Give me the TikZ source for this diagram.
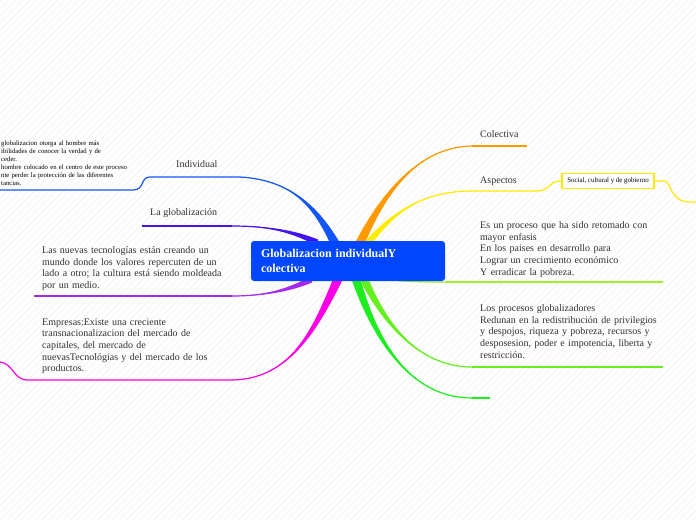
\documentclass[tikz,border=0pt]{standalone}
\usepackage{fontspec}
\setmainfont{Liberation Serif}
\usetikzlibrary{calc}
\pgfdeclarelayer{background}
\pgfdeclarelayer{stripes}
\pgfsetlayers{stripes,background,main}
\definecolor{blueB}{RGB}{20,85,245}
\definecolor{violetB}{RGB}{68,20,238}
\definecolor{purpleB}{RGB}{165,40,240}
\definecolor{magB}{RGB}{255,0,230}
\definecolor{orangeB}{RGB}{255,153,0}
\definecolor{yellowB}{RGB}{255,235,0}
\definecolor{ygreenB}{RGB}{160,238,40}
\definecolor{lgreenB}{RGB}{100,240,30}
\definecolor{greenB}{RGB}{30,238,30}
\definecolor{boxblue}{RGB}{0,70,255}
\definecolor{txt}{RGB}{50,50,50}
\newcommand{\taperbranch}[7]{%
  \fill[#1] ($(#2)+(#6,#7)$) .. controls ($(#3)+0.5*(#6,#7)$) and (#4) .. (#5)
     .. controls (#4) and ($(#3)-0.5*(#6,#7)$) .. ($(#2)-(#6,#7)$) -- cycle;
  \draw[#1, thinline] (#2) .. controls (#3) and (#4) .. (#5);
}
\tikzset{
  thinline/.style={line width=1.2pt},
  lbl/.style={inner sep=0, text=txt, font=\fontsize{10}{12}\selectfont, anchor=west},
  body/.style={inner sep=0, text=txt, anchor=north west, text width=250, align=left,
     font=\fontsize{10}{11.6}\selectfont},
  tiny/.style={inner sep=0, text=black, anchor=north west, text width=200, align=left,
     font=\fontsize{6.7}{8}\selectfont},
  stripe/.style={black!5, line width=0.5pt}
}
\begin{document}
\begin{tikzpicture}[x=1pt,y=-1pt]
\useasboundingbox (0,0) rectangle (696,520);
\begin{pgfonlayer}{stripes}
  \fill[white] (0,0) rectangle (696,520);
  \begin{scope}
    \clip (0,0) rectangle (696,520);
    \foreach \i in {-525,-518,...,700} \draw[stripe] (\i,520) -- (\i+520,0);
  \end{scope}
\end{pgfonlayer}

% central node
\node[fill=boxblue, rounded corners=3pt, minimum width=194, minimum height=40,
      text width=174, inner xsep=10, inner ysep=0, align=left, text=white,
      font=\bfseries\fontsize{12}{14.5}\selectfont] (c) at (348,261)
      {Globalizacion individualY\\colectiva};

% labels and texts
\node[lbl] (indiv) at (176,164) {Individual};
\node[lbl] (laglob) at (150,213) {La globalización};
\node[lbl] (colect) at (480,134) {Colectiva};
\node[lbl] (aspect) at (480,181) {Aspectos};

\node[tiny] (indtxt) at (1,141) {globalizacion otorga al hombre más\\
ibilidades de conocer la verdad y de\\
ceder.\\
hombre colocado en el centro de este proceso\\
nte perder la protección de las diferentes\\
tancias.};

\node[body] (nuevas) at (42,246.5) {Las nuevas tecnologías están creando un\\
mundo donde los valores repercuten de un\\
lado a otro; la cultura está siendo moldeada\\
por un medio.};

\node[body] (empresas) at (42,318.5) {Empresas:Existe una creciente\\
transnacionalizacion del mercado de\\
capitales, del mercado de\\
nuevasTecnológias y del mercado de los\\
productos.};

\node[body] (esun) at (480,221.5) {Es un proceso que ha sido retomado con\\
mayor enfasis\\
En los paises en desarrollo para\\
Lograr un crecimiento económico\\
Y erradicar la pobreza.};

\node[body] (procesos) at (480,304.5) {Los procesos globalizadores\\
Redunan en la redistribución de privilegios\\
y despojos, riqueza y pobreza, recursos y\\
desposesion, poder e impotencia, liberta y\\
restricción.};

\node[draw=yellowB, line width=1.3pt, fill=white, minimum width=92, minimum height=15,
      inner sep=0, text=black, font=\fontsize{6.9}{8}\selectfont] (social) at (608,181)
      {Social, cultural y de gobierno};

% coordinates
\coordinate (s1) at (335,243); \coordinate (e1) at (240,177);
\coordinate (s2) at (318,243); \coordinate (e2) at (232,226);
\coordinate (s3) at (312,279); \coordinate (e3) at (232,296);
\coordinate (s4) at (338,279); \coordinate (e4) at (232,380);
\coordinate (s5) at (360,243); \coordinate (e5) at (472,146);
\coordinate (s6) at (368,243); \coordinate (e6) at (472,191);
\coordinate (s7) at (380,275); \coordinate (e7) at (446,282);
\coordinate (s8) at (364,279); \coordinate (e8) at (472,367);
\coordinate (s9) at (356,279); \coordinate (e9) at (472,398);
\coordinate (ioff) at (-2,190);
\coordinate (moff) at (-2,362);
\coordinate (yoff) at (700,202);
\coordinate (u1) at (150,177);
\coordinate (u2) at (142,226);
\coordinate (u3) at (34,296);
\coordinate (u4) at (28,380);
\coordinate (u5) at (527,146);
\coordinate (u6) at (537,191);
\coordinate (u7) at (663,282);
\coordinate (u8) at (663,367);
\coordinate (u9) at (490,398);

\begin{pgfonlayer}{background}
  \taperbranch{blueB}{s1}{315,205}{290,180}{e1}{5}{0}
  \draw[blueB, thinline] (e1) -- (u1) .. controls (140,177) and (145,190) .. (133,190) -- (ioff);
  \taperbranch{violetB}{s2}{295,232}{270,226}{e2}{0}{3.5}
  \draw[violetB, thinline] (e2) -- (u2);
  \taperbranch{purpleB}{s3}{290,290}{265,296}{e3}{0}{3.5}
  \draw[purpleB, thinline] (e3) -- (u3);
  \taperbranch{magB}{s4}{315,330}{290,379}{e4}{5}{0}
  \draw[magB, thinline] (e4) -- (u4) .. controls (12,380) and (14,362) .. (moff);
  \taperbranch{orangeB}{s5}{385,190}{420,147}{e5}{5}{0}
  \draw[orangeB, thinline] (e5) -- (u5);
  \taperbranch{yellowB}{s6}{395,210}{425,191}{e6}{4.5}{0}
  \draw[yellowB, thinline] (e6) -- (u6) .. controls (550,191) and (548,181) .. (social.west);
  \draw[yellowB, thinline] (social.east) -- (665,181) .. controls (671,182) and (670,202) .. (690,202) -- (yoff);
  \taperbranch{ygreenB}{s7}{400,282}{420,282}{e7}{0}{3}
  \draw[ygreenB, thinline] (e7) -- (u7);
  \taperbranch{greenB}{s9}{375,340}{410,398}{e9}{4.5}{0}
  \draw[greenB, thinline] (e9) -- (u9);
  \taperbranch{lgreenB}{s8}{385,325}{420,367}{e8}{4.5}{0}
  \draw[lgreenB, thinline] (e8) -- (u8);
\end{pgfonlayer}
\end{tikzpicture}
\end{document}
